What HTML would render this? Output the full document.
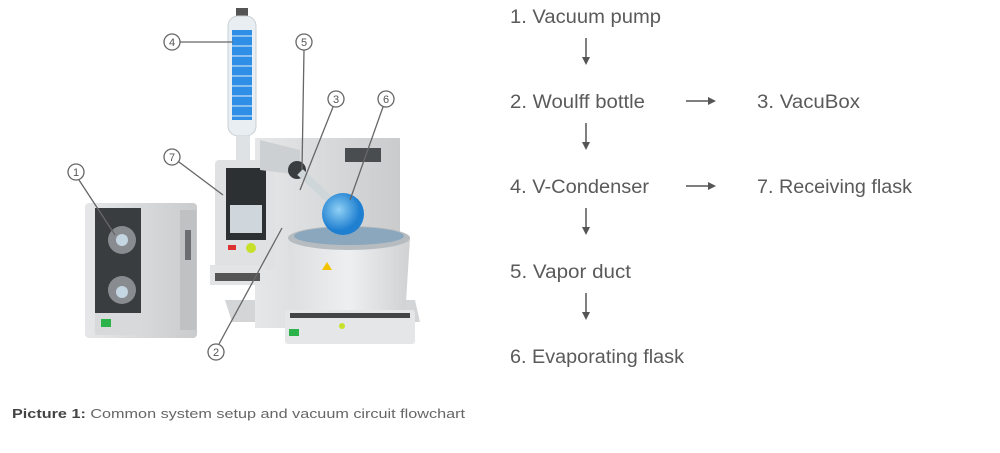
<!DOCTYPE html>
<html><head><meta charset="utf-8"><style>
html,body{margin:0;padding:0;background:#fff;width:1000px;height:453px;overflow:hidden}
svg{display:block}
</style></head><body>
<svg width="1000" height="453" viewBox="0 0 1000 453" xmlns="http://www.w3.org/2000/svg">
<defs>
<linearGradient id="g1" x1="0" x2="1"><stop offset="0" stop-color="#e6e7e8"/><stop offset="1" stop-color="#c9cbcd"/></linearGradient>
<linearGradient id="bath" x1="0" x2="1"><stop offset="0" stop-color="#dcdedf"/><stop offset="0.5" stop-color="#eeeff0"/><stop offset="1" stop-color="#cfd1d3"/></linearGradient>
<radialGradient id="fl" cx="0.4" cy="0.4"><stop offset="0" stop-color="#8fd0f5"/><stop offset="1" stop-color="#1f7fd0"/></radialGradient>
</defs>
<!-- pump -->
<rect x="85" y="203" width="112" height="135" rx="4" fill="url(#g1)"/>
<rect x="180" y="210" width="16" height="120" fill="#bfc1c3"/>
<rect x="95" y="208" width="46" height="105" fill="#3a3d40"/>
<circle cx="122" cy="240" r="14" fill="#888c90"/><circle cx="122" cy="240" r="6" fill="#c4d6e2"/>
<circle cx="122" cy="290" r="14" fill="#888c90"/><circle cx="122" cy="292" r="6" fill="#c4d6e2"/>
<rect x="95" y="313" width="46" height="22" fill="#d7d9da"/>
<rect x="101" y="319" width="10" height="8" fill="#2bb34a"/>
<rect x="185" y="230" width="6" height="30" fill="#6b6e71"/>
<!-- base plate -->
<polygon points="225,300 415,300 420,322 232,322" fill="#d3d5d7"/>
<!-- back unit -->
<rect x="255" y="138" width="145" height="190" fill="url(#g1)"/>
<rect x="345" y="148" width="36" height="14" fill="#4a4d50"/>
<!-- tower -->
<rect x="215" y="160" width="60" height="110" rx="4" fill="#dfe1e2"/>
<rect x="226" y="168" width="40" height="72" fill="#2d3033"/>
<rect x="230" y="205" width="32" height="28" fill="#cfd7dd"/>
<rect x="228" y="245" width="8" height="5" fill="#d33"/>
<circle cx="251" cy="248" r="5" fill="#c8e02a"/>
<rect x="210" y="265" width="55" height="20" fill="#e3e4e5"/>
<rect x="215" y="273" width="45" height="8" fill="#555"/>
<!-- condenser -->
<rect x="236" y="8" width="12" height="10" fill="#555"/>
<rect x="228" y="16" width="28" height="120" rx="10" fill="#e8eef2" stroke="#c9d0d5"/>
<rect x="232" y="30" width="20" height="90" fill="#2f8fe6"/>
<g stroke="#a9d2f6" stroke-width="1.5">
<line x1="232" y1="36" x2="252" y2="36"/><line x1="232" y1="46" x2="252" y2="46"/><line x1="232" y1="56" x2="252" y2="56"/><line x1="232" y1="66" x2="252" y2="66"/><line x1="232" y1="76" x2="252" y2="76"/><line x1="232" y1="86" x2="252" y2="86"/><line x1="232" y1="96" x2="252" y2="96"/><line x1="232" y1="106" x2="252" y2="106"/><line x1="232" y1="116" x2="252" y2="116"/></g>
<rect x="236" y="136" width="14" height="25" fill="#dfe2e4"/>
<polygon points="260,140 300,150 300,175 260,170" fill="#cdd0d2"/>
<circle cx="297" cy="170" r="9" fill="#3a3d40"/>
<line x1="300" y1="172" x2="330" y2="200" stroke="#cfd6da" stroke-width="8"/>
<!-- bath -->
<path d="M288,238 L410,238 L405,318 L294,318 Z" fill="url(#bath)"/>
<ellipse cx="349" cy="238" rx="61" ry="12" fill="#b7bcc0"/>
<ellipse cx="349" cy="236" rx="55" ry="9" fill="#8ba7bd"/>
<circle cx="343" cy="214" r="21" fill="url(#fl)"/>
<polygon points="322,270 327,262 332,270" fill="#f2c200"/>
<rect x="285" y="310" width="130" height="34" rx="3" fill="#e5e6e7"/>
<rect x="290" y="313" width="120" height="5" fill="#444"/>
<rect x="289" y="329" width="10" height="7" fill="#2bb34a"/>
<circle cx="342" cy="326" r="3" fill="#c8e02a"/>
<!-- callouts -->
<g fill="#fff" stroke="#666" stroke-width="1.3">
<line x1="180" y1="42" x2="233" y2="42"/>
<line x1="304" y1="50" x2="302" y2="170"/>
<line x1="333" y1="107" x2="300" y2="190"/>
<line x1="383" y1="107" x2="350" y2="200"/>
<line x1="179" y1="162" x2="223" y2="195"/>
<line x1="79" y1="180" x2="115" y2="235"/>
<line x1="219" y1="344" x2="282" y2="228"/>
<circle cx="172" cy="42" r="8"/><circle cx="304" cy="42" r="8"/><circle cx="336" cy="99" r="8"/><circle cx="386" cy="99" r="8"/><circle cx="172" cy="157" r="8"/><circle cx="76" cy="172" r="8"/><circle cx="216" cy="352" r="8"/>
</g>
<g font-family="Liberation Sans, sans-serif" font-size="11" fill="#555" text-anchor="middle">
<text x="172" y="46">4</text><text x="304" y="46">5</text><text x="336" y="103">3</text><text x="386" y="103">6</text><text x="172" y="161">7</text><text x="76" y="176">1</text><text x="216" y="356">2</text>
</g>
<!-- flowchart -->
<g font-family="Liberation Sans, sans-serif" font-size="19" fill="#5a5a5a">
<text x="510" y="23" textLength="151" lengthAdjust="spacingAndGlyphs">1. Vacuum pump</text>
<text x="510" y="108" textLength="135" lengthAdjust="spacingAndGlyphs">2. Woulff bottle</text>
<text x="757" y="108" textLength="103" lengthAdjust="spacingAndGlyphs">3. VacuBox</text>
<text x="510" y="193" textLength="139" lengthAdjust="spacingAndGlyphs">4. V-Condenser</text>
<text x="757" y="193" textLength="155" lengthAdjust="spacingAndGlyphs">7. Receiving flask</text>
<text x="510" y="278" textLength="121" lengthAdjust="spacingAndGlyphs">5. Vapor duct</text>
<text x="510" y="363" textLength="174" lengthAdjust="spacingAndGlyphs">6. Evaporating flask</text>
</g>
<g stroke="#555" stroke-width="1.5" fill="#555">
<line x1="586" y1="38" x2="586" y2="58"/><polygon points="582,57 590,57 586,65" stroke="none"/>
<line x1="586" y1="123" x2="586" y2="143"/><polygon points="582,142 590,142 586,150" stroke="none"/>
<line x1="586" y1="208" x2="586" y2="228"/><polygon points="582,227 590,227 586,235" stroke="none"/>
<line x1="586" y1="293" x2="586" y2="313"/><polygon points="582,312 590,312 586,320" stroke="none"/>
<line x1="686" y1="101" x2="709" y2="101"/><polygon points="708,97 708,105 716,101" stroke="none"/>
<line x1="686" y1="186" x2="709" y2="186"/><polygon points="708,182 708,190 716,186" stroke="none"/>
</g>
<text x="12" y="418" font-family="Liberation Sans, sans-serif" font-size="12.5" fill="#666" textLength="453" lengthAdjust="spacingAndGlyphs"><tspan font-weight="bold" fill="#444">Picture 1:</tspan> Common system setup and vacuum circuit flowchart</text>
</svg>
</body></html>
